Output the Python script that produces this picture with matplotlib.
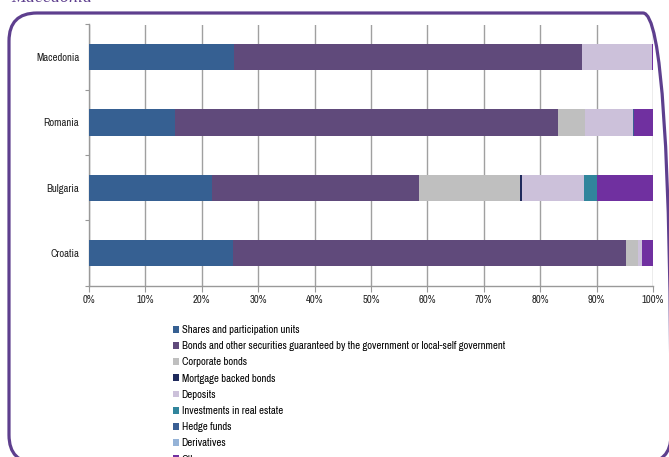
import matplotlib
matplotlib.use("Agg")
import matplotlib.pyplot as plt
from matplotlib.patches import FancyBboxPatch, Patch
import numpy as np

plt.rcParams['font.family'] = ['Liberation Sans Narrow', 'Archivo Narrow', 'Liberation Sans', 'DejaVu Sans']

countries = ["Macedonia", "Romania", "Bulgaria", "Croatia"]
series_names = [
    "Shares and participation units",
    "Bonds and other securities guaranteed by the government or local-self government",
    "Corporate bonds",
    "Mortgage backed bonds",
    "Deposits",
    "Investments in real estate",
    "Hedge funds",
    "Derivatives",
    "Other",
]
# values in % per country (Macedonia, Romania, Bulgaria, Croatia)
shares = [25.7, 15.2, 21.8, 25.6]
gov_bonds = [61.7, 68.0, 36.7, 69.6]
corporate = [0.0, 4.7, 17.9, 2.1]
mortgage = [0.0, 0.0, 0.3, 0.0]
deposits = [12.4, 8.6, 11.0, 0.7]
real_estate = [0.0, 0.0, 2.3, 0.0]
hedge = [0.0, 0.2, 0.0, 0.0]
derivatives = [0.0, 0.0, 0.0, 0.0]
other = [0.2, 3.3, 10.0, 2.0]
xticks = [0, 10, 20, 30, 40, 50, 60, 70, 80, 90, 100]

colors = ["#366092", "#604A7B", "#BFBFBF", "#1F2A5C", "#CCC1DA",
          "#31859C", "#3A5F94", "#95B3D7", "#7030A0"]

data = [shares, gov_bonds, corporate, mortgage, deposits, real_estate, hedge, derivatives, other]

FS = 7.7

fig = plt.figure(figsize=(6.69, 4.57), dpi=100)
ax = fig.add_axes([89/669, 1-285.7/457, (653-89)/669, (285.7-24.5)/457])

ypos = np.arange(len(countries))
left = np.zeros(len(countries))
handles = []
for vals, col, name in zip(data, colors, series_names):
    v = np.array(vals)
    ax.barh(ypos, v, left=left, height=0.4, color=col, edgecolor='none', zorder=3, label=name)
    left += v
    handles.append(Patch(facecolor=col, edgecolor='none', label=name))

ax.set_ylim(3.5, -0.5)
ax.set_xlim(0, 100)
ax.set_xticks(xticks)
ax.set_xticklabels([f"{t}%" for t in xticks], fontsize=FS, color='#222222')
ax.set_yticks(ypos)
ax.set_yticklabels(countries, fontsize=FS, color='#222222')
ax.set_yticks([-0.5, 0.5, 1.5, 2.5, 3.5], minor=True)
ax.tick_params(axis='y', which='major', length=0, pad=7)
ax.tick_params(axis='y', which='minor', length=3, color='#999999', width=0.8)
ax.tick_params(axis='x', which='major', length=4, color='#999999', width=0.8, pad=3)
ax.xaxis.grid(True, color='#A0A0A0', linewidth=1.0, zorder=0)
ax.set_axisbelow(True)
for s in ['top', 'right']:
    ax.spines[s].set_visible(False)
for s in ['left', 'bottom']:
    ax.spines[s].set_color('#999999')
    ax.spines[s].set_linewidth(1.0)

fig.legend(handles=handles, loc='upper left', bbox_to_anchor=(173/669, 1-325/457),
           frameon=False, fontsize=FS, handlelength=0.6, handleheight=0.6,
           handletextpad=0.2, labelspacing=0.58, borderpad=0, borderaxespad=0)

# rounded frame
frame = FancyBboxPatch((0.09, -0.06), 6.62, 4.50,
                       boxstyle="round,pad=0,rounding_size=0.28",
                       transform=fig.dpi_scale_trans, fill=False,
                       edgecolor='#5E3F8E', linewidth=2.3, clip_on=False)
fig.patches.append(frame)

fig.text(11/669, 1-1.5/457, "Macedonia", fontsize=13, style='italic',
         family=['Liberation Serif', 'DejaVu Serif'], color='#5E3F8E', va='baseline', ha='left')

fig.savefig("out.png", dpi=100)
